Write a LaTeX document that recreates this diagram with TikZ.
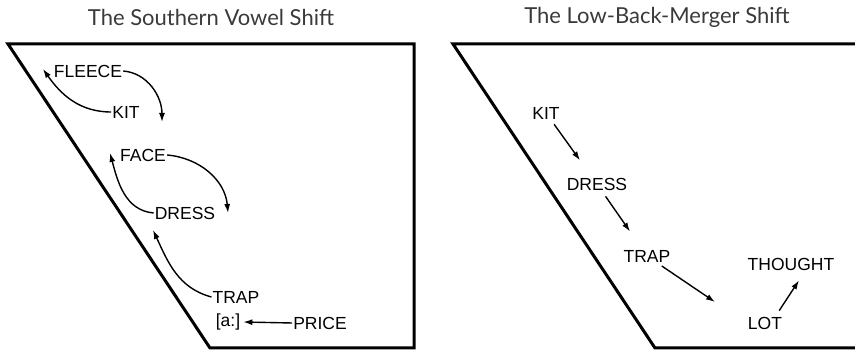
\documentclass[tikz,border=0pt]{standalone}
\usepackage{fontspec}
\usepackage{xcolor}
\usetikzlibrary{arrows.meta}
\setmainfont{Liberation Sans}
\newfontfamily\titlefont{Lato}
\definecolor{titlegray}{HTML}{3A3A3A}

\begin{document}
\begin{tikzpicture}[x=1pt, y=1pt,
    vowel/.style={inner sep=1pt, font=\fontsize{17.5}{19}\selectfont},
    heading/.style={font=\titlefont\fontsize{22}{24}\selectfont, text=titlegray},
    chart/.style={line width=3pt, line join=miter},
    shiftarrow/.style={line width=1.4pt, -{Latex[length=9pt, width=6pt]}}]
\useasboundingbox (0,0) rectangle (855,350);

\node[heading] (southtitle) at (211,333) {The Southern Vowel Shift};
\node[heading] (lbmtitle) at (657,333) {The Low-Back-Merger Shift};

\draw[chart] (8,306) -- (414,306) -- (414,2) -- (210,2) -- cycle;
\begin{scope}
    \clip (0,0) rectangle (855,350);
    \draw[chart] (862,306) -- (453,306) -- (655,2) -- (862,2);
\end{scope}

\node[vowel] (fleece) at (88,279) {FLEECE};
\node[vowel] (kit) at (126,238) {KIT};
\node[vowel] (face) at (143,195) {FACE};
\node[vowel] (dress) at (185,137) {DRESS};
\node[vowel] (trap) at (236,53) {TRAP};
\node[vowel] (along) at (228,28) {[a:]};
\node[vowel] (price) at (320,27) {PRICE};

\coordinate (fleecetip) at (43,281);
\coordinate (kittip) at (162,228);
\coordinate (facetip) at (110,197);
\coordinate (dresstip) at (228,137);
\coordinate (traptip) at (153,120);

\draw[shiftarrow] (kit.west) to[out=180, in=-55] (fleecetip);
\draw[shiftarrow] (fleece.east) to[out=-5, in=90] (kittip);
\draw[shiftarrow] (dress.west) to[out=175, in=-75] (facetip);
\draw[shiftarrow] (face.east) to[out=-5, in=95] (dresstip);
\draw[shiftarrow] (trap.west) to[out=165, in=-65] (traptip);
\draw[shiftarrow] (price.west) -- ([xshift=2pt]along.east);

\node[vowel] (kitlbm) at (546,237) {KIT};
\node[vowel] (dresslbm) at (597,166) {DRESS};
\node[vowel] (traplbm) at (647,94) {TRAP};
\node[vowel] (thought) at (791,86) {THOUGHT};
\node[vowel] (lot) at (765,27) {LOT};

\coordinate (lowback) at (715,48);

\draw[shiftarrow, shorten <=5pt, shorten >=20pt] (kitlbm) -- (dresslbm);
\draw[shiftarrow, shorten <=6pt, shorten >=21pt] (dresslbm) -- (traplbm);
\draw[shiftarrow, shorten <=5pt] (traplbm) -- (lowback);
\draw[shiftarrow] ([shift={(-4pt,5pt)}]lot.north east) -- ([shift={(8pt,-9pt)}]thought.south);
\end{tikzpicture}
\end{document}
